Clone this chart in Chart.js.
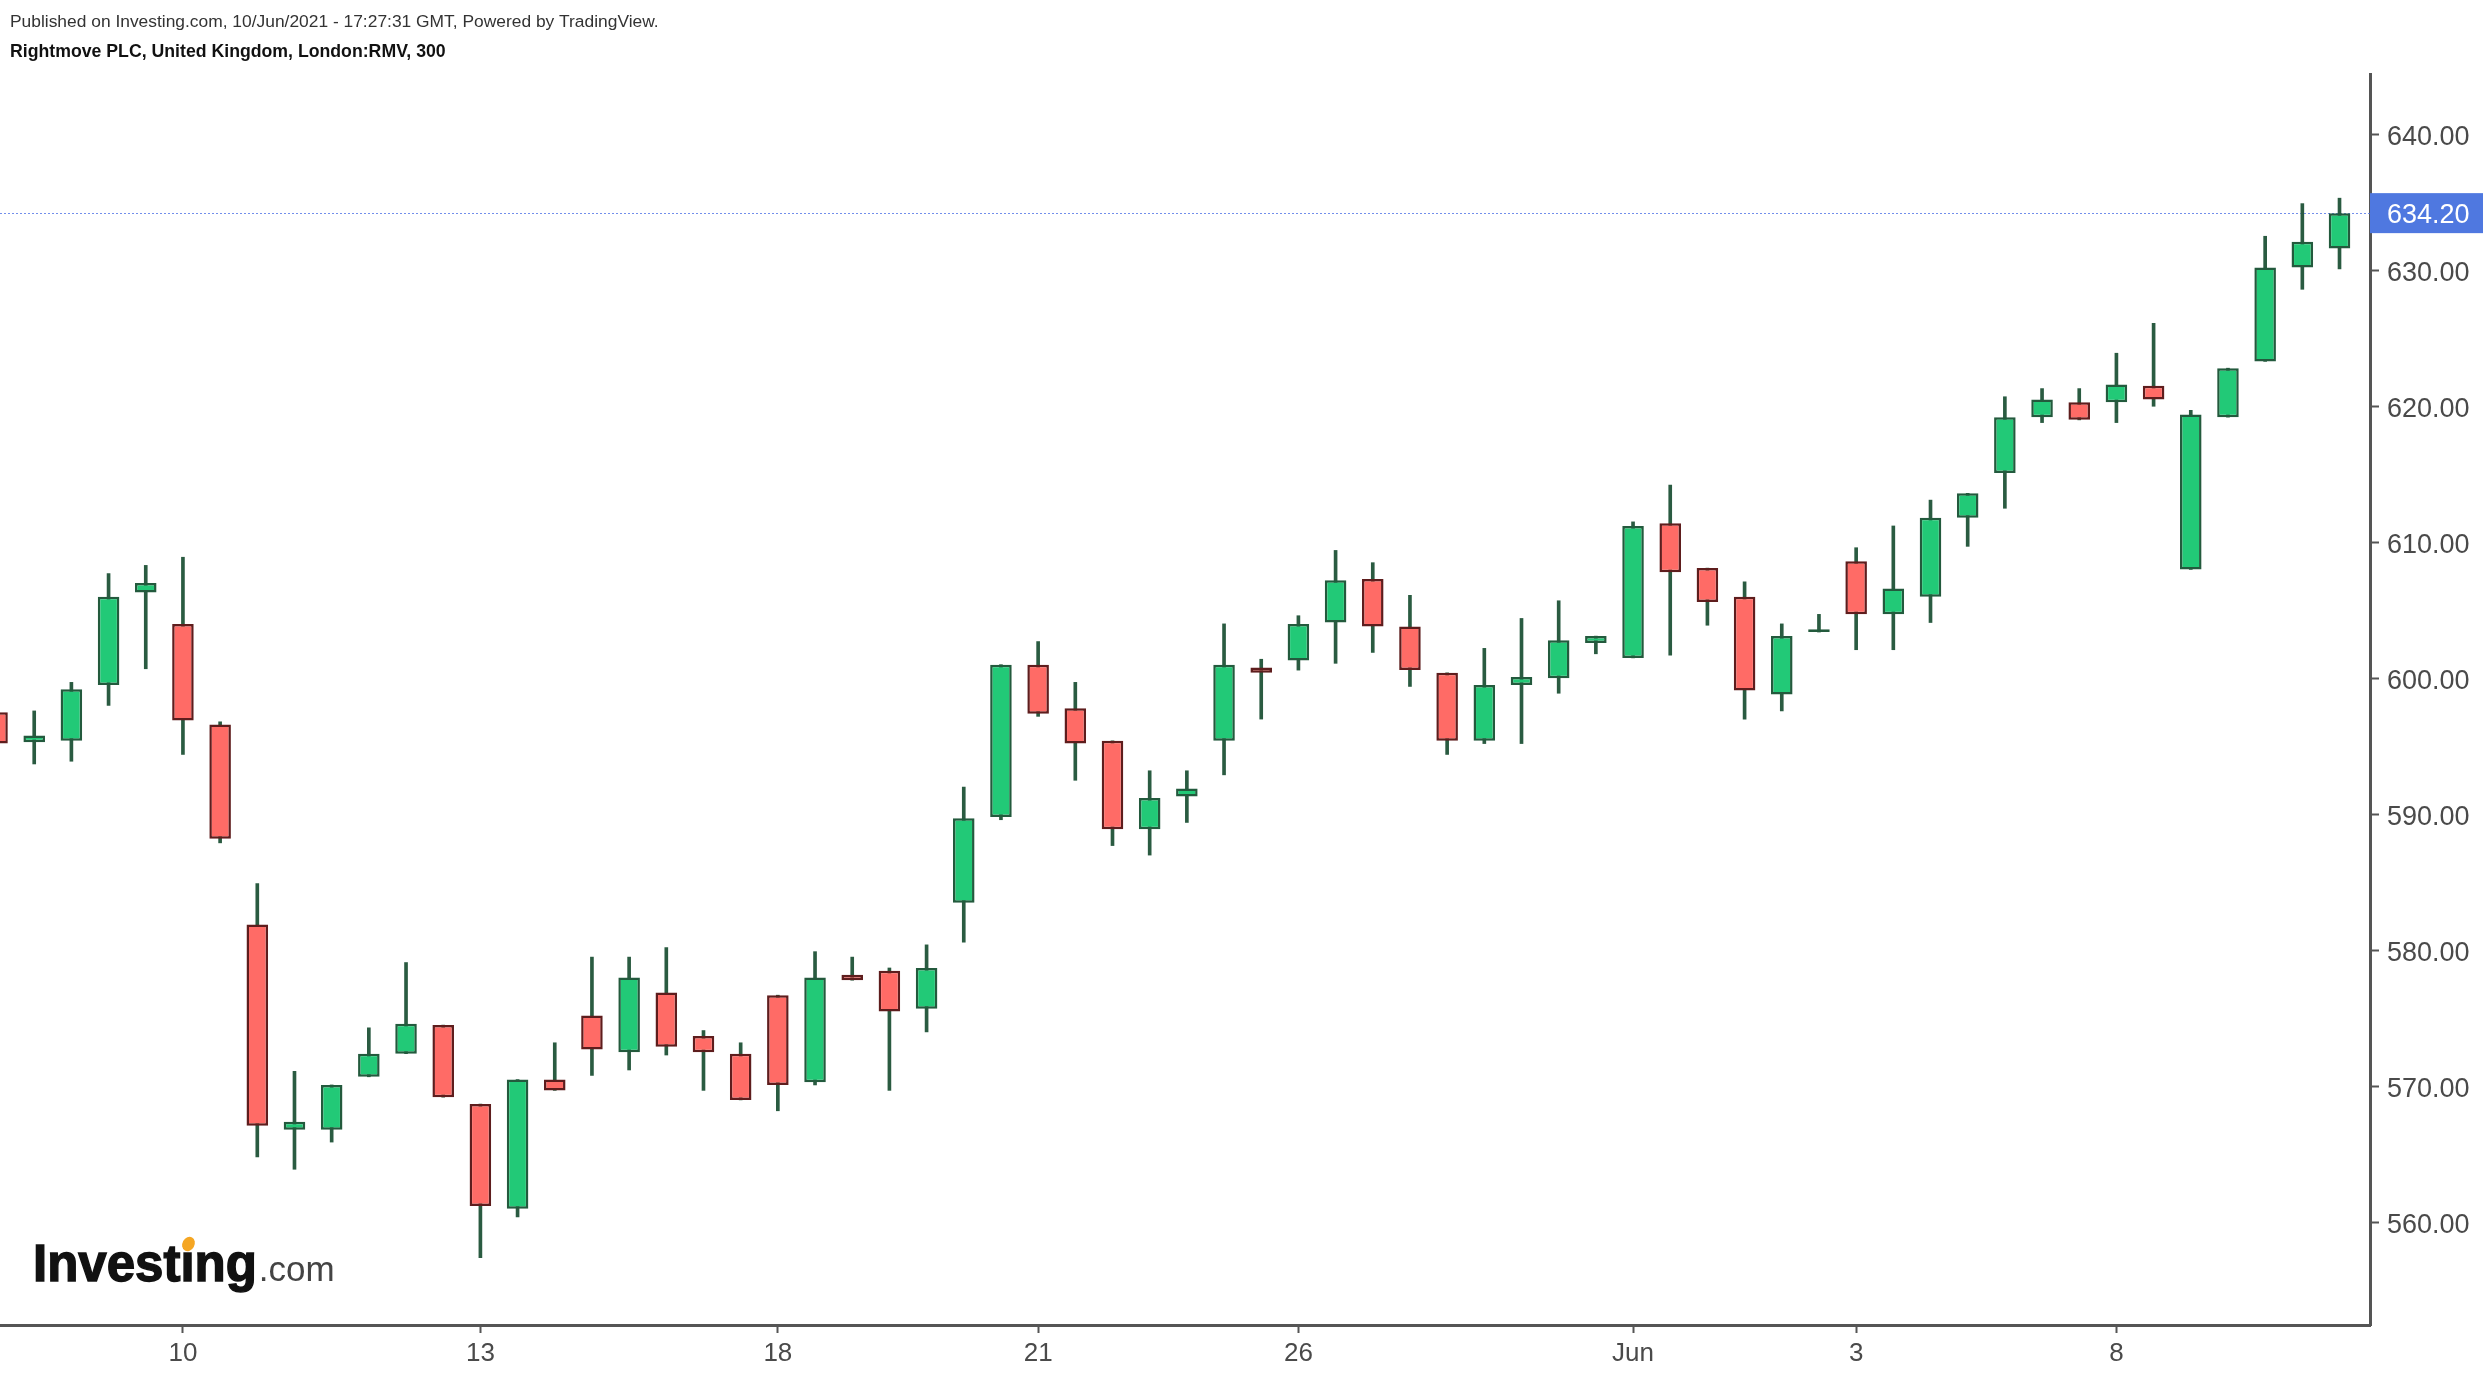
<!DOCTYPE html>
<html>
<head>
<meta charset="utf-8">
<title>Rightmove PLC - RMV 300</title>
<script src="https://cdn.jsdelivr.net/npm/chart.js@4.4.1/dist/chart.umd.min.js"></script>
<style>
  html, body { margin: 0; padding: 0; background: #fff; }
  #wrap { width: 2488px; height: 1378px; position: relative; }
</style>
</head>
<body>
<div id="wrap"><canvas id="candles"></canvas></div>
<script>
// 300-minute candles
const opens  = [597.5, 595.3, 595.4, 599.5, 606.3, 604.0, 596.6, 581.9, 566.8, 566.8,
                570.7, 572.4, 574.5, 568.7, 561.0, 570.5, 575.2, 572.5, 576.9, 573.7,
                572.4, 576.7, 570.3, 578.2, 578.5, 575.7, 583.5, 589.8, 601.0, 597.8,
                595.4, 588.9, 591.3, 595.4, 600.8, 601.3, 604.1, 607.3, 603.8, 600.4,
                595.4, 599.5, 600.0, 602.6, 601.5, 611.4, 608.1, 606.0, 598.8, 603.4,
                608.6, 604.7, 606.0, 611.8, 615.1, 619.2, 620.3, 620.3, 621.5, 608.0,
                619.2, 623.3, 630.2, 631.6];
const highs  = [597.5, 597.6, 599.7, 607.7, 608.3, 608.9, 596.8, 584.9, 571.1, 570.1,
                574.3, 579.1, 574.5, 568.7, 570.5, 573.2, 579.5, 579.5, 580.2, 574.1,
                573.2, 576.7, 579.9, 579.5, 578.7, 580.4, 592.0, 601.0, 602.7, 599.7,
                595.4, 593.2, 593.2, 604.0, 601.4, 604.6, 609.4, 608.5, 606.1, 600.4,
                602.2, 604.4, 605.7, 603.1, 611.5, 614.2, 608.1, 607.1, 604.0, 604.7,
                609.6, 611.2, 613.1, 613.6, 620.7, 621.3, 621.3, 623.9, 626.1, 619.7,
                622.8, 632.5, 634.9, 635.3];
const lows   = [595.2, 593.7, 593.9, 598.0, 600.7, 594.4, 587.9, 564.8, 563.9, 565.9,
                570.7, 572.4, 569.2, 557.4, 560.4, 569.7, 570.8, 571.2, 572.3, 569.7,
                569.0, 568.2, 570.1, 577.8, 569.7, 574.0, 580.6, 589.6, 597.2, 592.5,
                587.7, 587.0, 589.4, 592.9, 597.0, 600.6, 601.1, 601.9, 599.4, 594.4,
                595.2, 595.2, 598.9, 601.8, 601.5, 601.7, 603.9, 597.0, 597.6, 603.4,
                602.1, 602.1, 604.1, 609.7, 612.5, 618.8, 619.0, 618.8, 620.0, 608.0,
                619.2, 623.3, 628.6, 630.1];
const closes = [595.2, 595.8, 599.2, 606.0, 607.0, 596.9, 588.2, 567.1, 567.4, 570.1,
                572.4, 574.6, 569.2, 561.2, 570.5, 569.7, 572.7, 578.0, 572.9, 572.5,
                569.0, 570.1, 578.0, 577.8, 575.5, 578.7, 589.7, 601.0, 597.4, 595.2,
                588.9, 591.2, 591.9, 601.0, 600.4, 604.0, 607.2, 603.8, 600.6, 595.4,
                599.5, 600.1, 602.8, 603.1, 611.2, 607.8, 605.6, 599.1, 603.1, 603.6,
                604.7, 606.6, 611.8, 613.6, 619.2, 620.5, 619.0, 621.6, 620.5, 619.4,
                622.8, 630.2, 632.1, 634.2];

const xTickIndex  = [5, 13, 21, 28, 35, 44, 50, 57];
const xTickLabels = ["10", "13", "18", "21", "26", "Jun", "3", "8"];
const yTicks = [560, 570, 580, 590, 600, 610, 620, 630, 640];

const publishedLine = "Published on Investing.com, 10/Jun/2021 - 17:27:31 GMT, Powered by TradingView.";
const symbolLine = "Rightmove PLC, United Kingdom, London:RMV, 300";

const upFill = "#22c977", upLine = "#235a3d";
const downFill = "#ff6b66", downLine = "#5e1d1d";
const wickColor = "#2a5b41";
const fontFam = '"Liberation Sans", Arial, sans-serif';

Chart.defaults.font.family = fontFam;

const isUp = i => closes[i] >= opens[i];
const lastClose = closes[closes.length - 1];

const decor = {
    id: "decor",
    beforeDraw(chart) {
        const c = chart.ctx;
        c.save();
        c.fillStyle = "#fff";
        c.fillRect(0, 0, chart.width, chart.height);
        c.textBaseline = "middle";
        c.fillStyle = "#333";
        c.font = "17.4px " + fontFam;
        c.fillText(publishedLine, 10, 22);
        c.fillStyle = "#111";
        c.font = "bold 17.7px " + fontFam;
        c.fillText(symbolLine, 10, 52);
        c.restore();
    },
    beforeDatasetsDraw(chart) {
        // dotted line at last price
        const c = chart.ctx;
        const area = chart.chartArea;
        const y = Math.round(chart.scales.y.getPixelForValue(lastClose)) + 0.5;
        c.save();
        c.strokeStyle = "rgba(80, 115, 230, 0.8)";
        c.lineWidth = 1;
        c.setLineDash([2, 2]);
        c.beginPath();
        c.moveTo(area.left, y);
        c.lineTo(area.right, y);
        c.stroke();
        c.restore();
    },
    afterDraw(chart) {
        const c = chart.ctx;
        const area = chart.chartArea;
        c.save();

        // last price tag
        const y = chart.scales.y.getPixelForValue(lastClose);
        c.fillStyle = "#4f78e0";
        c.fillRect(area.right, y - 20, 113, 40);
        c.fillStyle = "#fff";
        c.font = "27px " + fontFam;
        c.textBaseline = "middle";
        c.fillText(lastClose.toFixed(2), area.right + 17, y + 2);

        // Investing.com logo
        const lx = 33, base = 1281;
        c.textBaseline = "alphabetic";
        c.font = "bold 51px " + fontFam;
        c.fillStyle = "#111";
        c.strokeStyle = "#111";
        c.lineWidth = 1.4;
        c.fillText("Investing", lx, base);
        c.strokeText("Investing", lx, base);
        const w = c.measureText("Investing").width;
        const wi = c.measureText("Invest").width;
        const wdot = c.measureText("i").width;
        c.fillStyle = "#f5a623";
        c.beginPath();
        c.ellipse(lx + wi + wdot / 2 + 1, base - 37, 6, 7.5, 0.5, 0, Math.PI * 2);
        c.fill();
        c.font = "35px " + fontFam;
        c.fillStyle = "#444";
        c.fillText(".com", lx + w + 2, base);
        c.restore();
    }
};

const ctx = document.getElementById("candles").getContext("2d");
new Chart(ctx, {
    type: "bar",
    data: {
        datasets: [
            {
                label: "body",
                data: opens.map((o, i) => ({ x: i, y: [o, closes[i]] })),
                backgroundColor: c => isUp(c.dataIndex) ? upFill : downFill,
                borderColor: c => isUp(c.dataIndex) ? upLine : downLine,
                borderWidth: 2.5,
                borderSkipped: false,
                grouped: false,
                categoryPercentage: 1,
                barPercentage: 0.58
            },
            {
                label: "wick",
                data: lows.map((l, i) => ({ x: i, y: [l, highs[i]] })),
                backgroundColor: wickColor,
                borderWidth: 0,
                grouped: false,
                barThickness: 3
            }
        ]
    },
    options: {
        responsive: true,
        maintainAspectRatio: false,
        animation: false,
        layout: { padding: { top: 74, left: 0, right: 0, bottom: 0 } },
        plugins: {
            legend: { display: false },
            tooltip: { enabled: false }
        },
        scales: {
            x: {
                type: "linear",
                min: 0.08,
                max: 63.82,
                offset: false,
                afterBuildTicks: s => { s.ticks = xTickIndex.map(v => ({ value: v })); },
                afterFit: s => { s.height = 53; },
                grid: {
                    offset: false,
                    drawOnChartArea: false,
                    drawTicks: true,
                    tickLength: 8,
                    tickColor: "#555",
                    tickWidth: 2
                },
                border: { display: true, color: "#555", width: 3 },
                ticks: {
                    autoSkip: false,
                    maxRotation: 0,
                    padding: 5,
                    color: "#4a4a4a",
                    font: { size: 26 },
                    callback: (v, i) => xTickLabels[i]
                }
            },
            y: {
                position: "right",
                min: 552.45,
                max: 644.43,
                afterBuildTicks: s => { s.ticks = yTicks.map(v => ({ value: v })); },
                afterFit: s => { s.width = 118; },
                grid: {
                    drawOnChartArea: false,
                    tickLength: 9,
                    tickColor: "#555",
                    tickWidth: 2
                },
                border: { display: true, color: "#555", width: 3 },
                ticks: {
                    padding: 8,
                    labelOffset: 3,
                    color: "#4a4a4a",
                    font: { size: 27 },
                    callback: v => Number(v).toFixed(2)
                }
            }
        }
    },
    plugins: [decor]
});
</script>
</body>
</html>
